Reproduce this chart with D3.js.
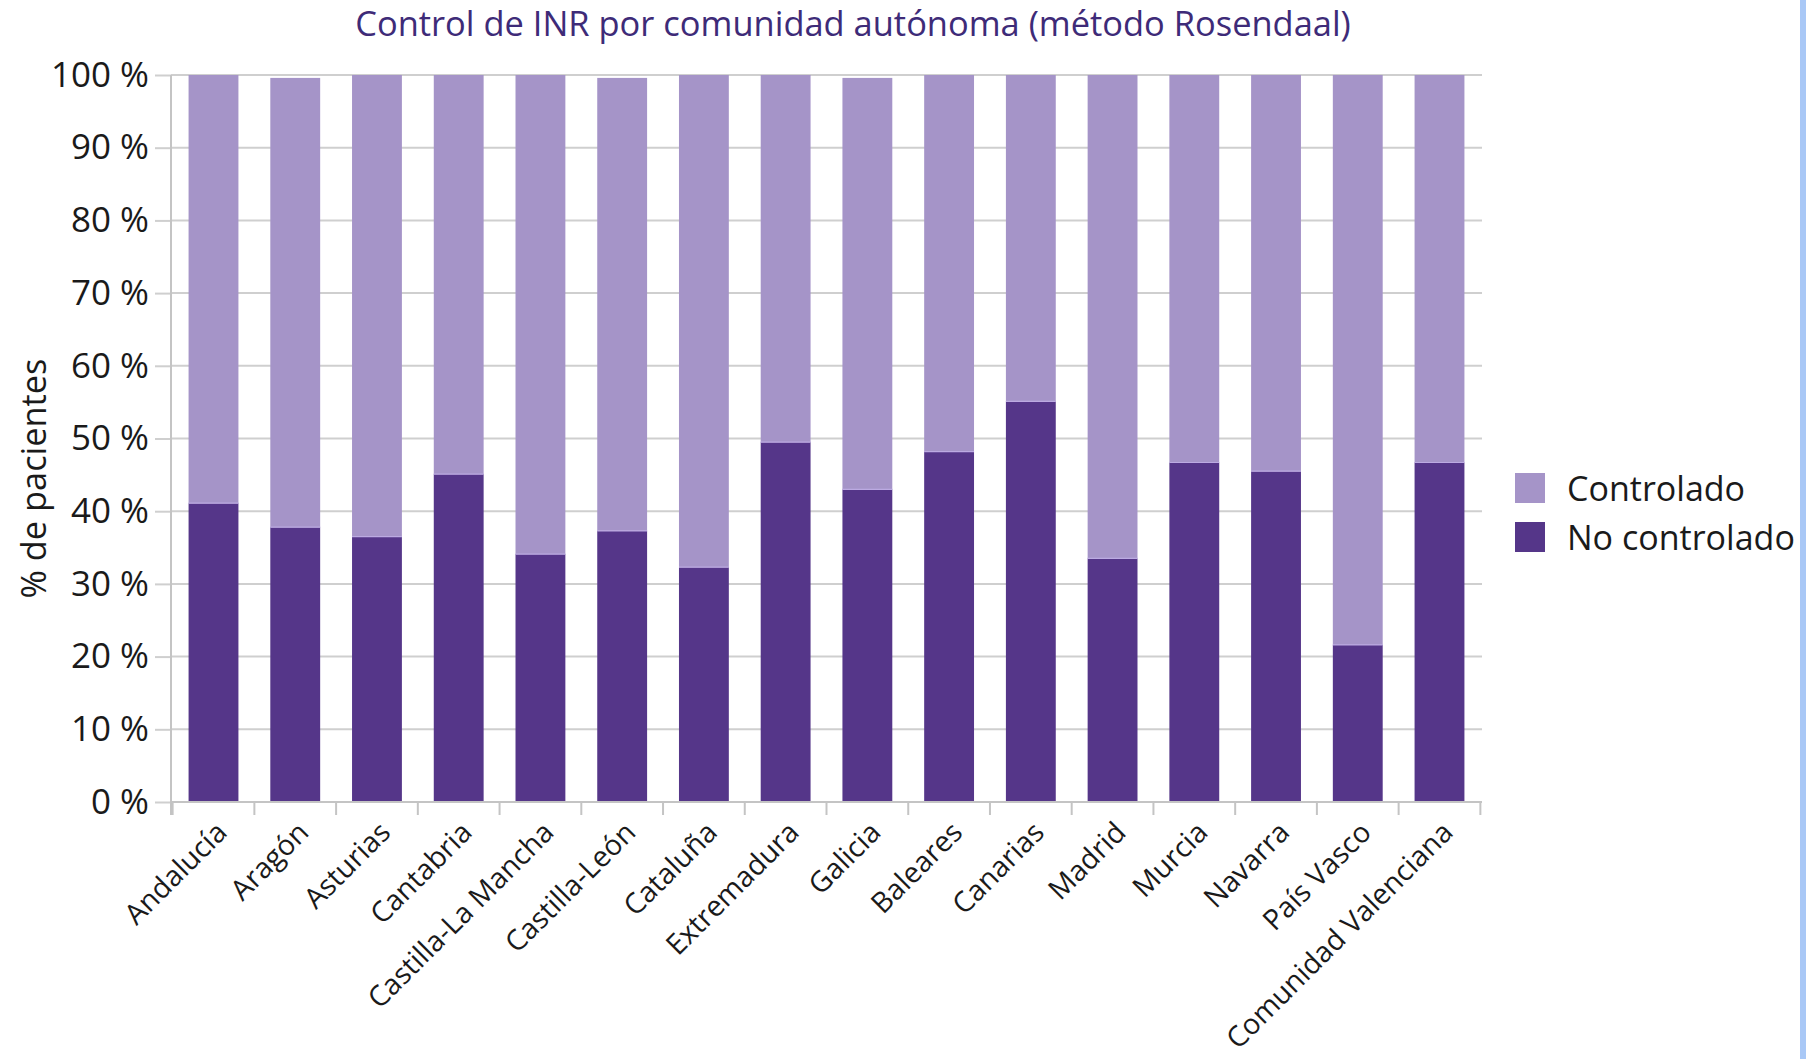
<!DOCTYPE html>
<html>
<head>
<meta charset="utf-8">
<script src="https://cdn.jsdelivr.net/npm/d3@7"></script>
<style>
  html, body { margin: 0; padding: 0; background: #ffffff; }
  svg { display: block; }
</style>
</head>
<body>
<script>
// Regions and share of patients (%) by INR control status
const categories = [
  "Andalucía", "Aragón", "Asturias", "Cantabria", "Castilla-La Mancha",
  "Castilla-León", "Cataluña", "Extremadura", "Galicia", "Baleares",
  "Canarias", "Madrid", "Murcia", "Navarra", "País Vasco", "Comunidad Valenciana"
];
const noControlado = [41.1, 37.8, 36.5, 45.1, 34.1, 37.3, 32.3, 49.5, 43.0, 48.2, 55.1, 33.5, 46.7, 45.5, 21.6, 46.7];
const controlado   = [58.9, 61.8, 63.5, 54.9, 65.9, 62.3, 67.7, 50.5, 56.6, 51.8, 44.9, 66.5, 53.3, 54.5, 78.4, 53.3];
const seriesNames = ["Controlado", "No controlado"];
const yTickValues = [0, 10, 20, 30, 40, 50, 60, 70, 80, 90, 100];
const chartTitle = "Control de INR por comunidad autónoma (método Rosendaal)";
const yAxisTitle = "% de pacientes";

(function draw() {
  const W = 1806, H = 1059;
  const FONT = "'Open Sans', 'Noto Sans', sans-serif";
  const colors = { "Controlado": "#a594c8", "No controlado": "#553689" };

  const svg = d3.select("body").append("svg")
    .attr("width", W).attr("height", H)
    .style("font-family", FONT);

  // size a font so that a sample string spans a given width
  function fitSize(sample, target) {
    const t = svg.append("text").style("font-size", "100px").text(sample);
    const w = t.node().getComputedTextLength();
    t.remove();
    return 100 * target / w;
  }

  const plotLeft = 171, plotRight = 1482, plotTop = 75, plotBottom = 802;

  const x = d3.scaleBand().domain(categories).range([plotLeft, plotRight])
    .paddingInner(0.39).paddingOuter(0.215);
  const y = d3.scaleLinear().domain([0, 100]).range([plotBottom, plotTop]);

  // stacked layout: "No controlado" at the base, "Controlado" above it
  const rows = categories.map((c, i) => ({ cat: c, "No controlado": noControlado[i], "Controlado": controlado[i] }));
  const stack = d3.stack().keys(["No controlado", "Controlado"])(rows);

  // horizontal gridlines
  svg.append("g").selectAll("line").data(yTickValues).join("line")
    .attr("x1", plotLeft).attr("x2", plotRight)
    .attr("y1", d => y(d)).attr("y2", d => y(d))
    .attr("stroke", "#cfcfcf").attr("stroke-width", 2);

  // bars
  svg.append("g").selectAll("g").data(stack).join("g")
    .attr("fill", s => colors[s.key])
    .selectAll("rect").data(s => s).join("rect")
    .attr("x", d => x(d.data.cat))
    .attr("width", x.bandwidth())
    .attr("y", d => y(d[1]))
    .attr("height", d => y(d[0]) - y(d[1]));

  // light seam where the two segments meet
  svg.append("g").selectAll("line").data(rows).join("line")
    .attr("x1", d => x(d.cat)).attr("x2", d => x(d.cat) + x.bandwidth())
    .attr("y1", d => y(d["No controlado"])).attr("y2", d => y(d["No controlado"]))
    .attr("stroke", "#bcaae2").attr("stroke-width", 1.2);

  // y axis
  const tickFont = fitSize("100 %", 98);
  const yAxis = svg.append("g").attr("transform", `translate(${plotLeft},0)`)
    .call(d3.axisLeft(y).tickValues(yTickValues).tickFormat(d => d + " %")
      .tickSize(16).tickSizeOuter(0).tickPadding(6));
  yAxis.select(".domain").remove();
  yAxis.selectAll(".tick line").attr("stroke", "#cfcfcf").attr("stroke-width", 2);
  yAxis.selectAll(".tick text")
    .style("font-size", tickFont + "px").style("font-family", FONT)
    .attr("fill", "#1a1a1a");
  svg.append("line")
    .attr("x1", plotLeft).attr("x2", plotLeft).attr("y1", plotTop).attr("y2", plotBottom + 13)
    .attr("stroke", "#c4c4c4").attr("stroke-width", 2);

  // x axis: baseline and tick marks between categories
  svg.append("line")
    .attr("x1", plotLeft).attr("x2", plotRight).attr("y1", plotBottom).attr("y2", plotBottom)
    .attr("stroke", "#c4c4c4").attr("stroke-width", 2);
  const gap = x.step() * x.paddingInner();
  const boundaries = categories.map(c => x(c) - gap / 2)
    .concat([x(categories[categories.length - 1]) + x.bandwidth() + gap / 2]);
  svg.append("g").selectAll("line").data(boundaries).join("line")
    .attr("x1", d => d).attr("x2", d => d)
    .attr("y1", plotBottom).attr("y2", plotBottom + 13)
    .attr("stroke", "#c4c4c4").attr("stroke-width", 2);

  const catFont = fitSize("Comunidad Valenciana", 306);
  const xAxis = svg.append("g").attr("transform", `translate(0,${plotBottom})`)
    .call(d3.axisBottom(x).tickSize(0).tickPadding(0));
  xAxis.select(".domain").remove();
  xAxis.selectAll(".tick text")
    .style("font-size", catFont + "px").style("font-family", FONT)
    .attr("fill", "#1a1a1a")
    .attr("text-anchor", "end")
    .attr("dy", null)
    .attr("y", 0)
    .attr("transform", "translate(7,24) rotate(-45)")
    .attr("dominant-baseline", "central");

  // y axis title
  const yTitleFont = fitSize(yAxisTitle, 240);
  svg.append("text")
    .attr("transform", `translate(32,${(plotTop + plotBottom) / 2 + 40}) rotate(-90)`)
    .attr("text-anchor", "middle").attr("dominant-baseline", "central")
    .style("font-size", yTitleFont + "px").attr("fill", "#1a1a1a")
    .text(yAxisTitle);

  // chart title
  const titleFont = fitSize(chartTitle, 996);
  svg.append("text")
    .attr("x", 853).attr("y", 36)
    .attr("text-anchor", "middle")
    .style("font-size", titleFont + "px").attr("fill", "#3e2b78")
    .text(chartTitle);

  // legend
  const legendFont = fitSize("No controlado", 228);
  const legend = svg.append("g").selectAll("g").data(seriesNames).join("g")
    .attr("transform", (d, i) => `translate(1515,${473 + i * 49})`);
  legend.append("rect").attr("width", 30).attr("height", 30).attr("fill", d => colors[d]);
  legend.append("text").attr("x", 52).attr("y", 15)
    .attr("dominant-baseline", "central")
    .style("font-size", legendFont + "px").attr("fill", "#1a1a1a")
    .text(d => d);

  // page edge strip
  svg.append("rect").attr("x", 1800).attr("y", 0).attr("width", 6).attr("height", H)
    .attr("fill", "#a9c8f6");
})();
</script>
</body>
</html>
